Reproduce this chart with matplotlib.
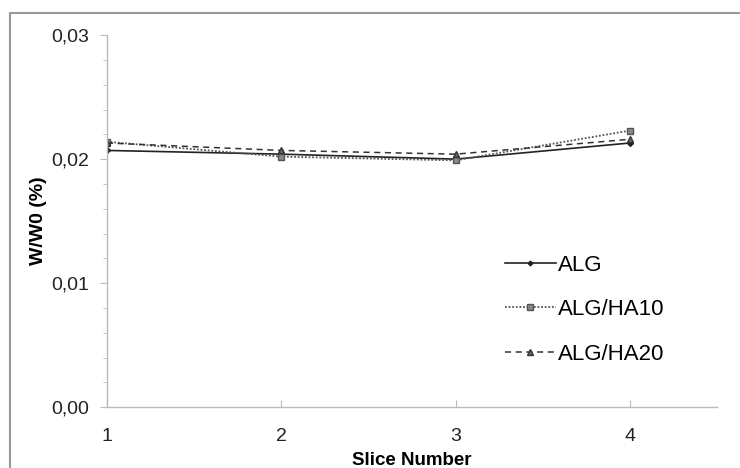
import matplotlib
matplotlib.use('Agg')
import matplotlib.pyplot as plt
from matplotlib.patches import Rectangle
from matplotlib.ticker import MultipleLocator, FuncFormatter

plt.rcParams['font.family'] = ['Liberation Sans', 'DejaVu Sans']

# 数据
slices = [1, 2, 3, 4]
alg = [0.0207, 0.0204, 0.0200, 0.0213]
alg_ha10 = [0.0214, 0.0202, 0.0199, 0.0223]
alg_ha20 = [0.0213, 0.0207, 0.0204, 0.0216]

fig = plt.figure(figsize=(7.4, 4.68), dpi=100)
ax = fig.add_axes([0.1446, 0.130, 0.8244, 0.795])

# 外框
fig.patches.append(Rectangle((10 / 740, -0.2), 1.2, (468 - 13) / 468 + 0.2,
                             transform=fig.transFigure, fill=False,
                             edgecolor='#999999', linewidth=1.5))

ax.plot(slices, alg, color='#222222', linestyle='-', linewidth=1.2,
        marker='D', markersize=3, label='ALG')
ax.plot(slices, alg_ha10, color='#555555', linestyle=(0, (1, 1)), linewidth=1.3,
        marker='s', markersize=5, markerfacecolor='#888888', label='ALG/HA10')
ax.plot(slices, alg_ha20, color='#333333', linestyle=(0, (4, 3)), linewidth=1.1,
        marker='^', markersize=5, markerfacecolor='#666666', label='ALG/HA20')

ax.set_xlim(1, 4.5)
ax.set_ylim(0, 0.03)
ax.set_xticks(slices)
ax.yaxis.set_major_locator(MultipleLocator(0.01))
ax.yaxis.set_minor_locator(MultipleLocator(0.002))
ax.yaxis.set_major_formatter(FuncFormatter(lambda v, p: f'{v:.2f}'.replace('.', ',')))

for s in ['top', 'right']:
    ax.spines[s].set_visible(False)
for s in ['left', 'bottom']:
    ax.spines[s].set_color('#bbbbbb')
    ax.spines[s].set_linewidth(1.0)

ax.tick_params(axis='both', which='both', colors='#bbbbbb', labelcolor='#222222',
               labelsize=14)
ax.tick_params(axis='y', which='major', length=5, direction='out', pad=8)
ax.tick_params(axis='y', which='minor', length=3, direction='out')
ax.tick_params(axis='x', length=5, direction='in', pad=15)

ax.set_ylabel('W/W0 (%)', fontsize=14, fontweight='bold', labelpad=3)
ax.set_xlabel('Slice Number', fontsize=13.5, fontweight='bold', labelpad=5)

ax.legend(loc='center left', bbox_to_anchor=(0.652, 0.262), frameon=False,
          fontsize=16, handlelength=2.3, labelspacing=1.05, handletextpad=0.1,
          borderpad=0, borderaxespad=0, markerscale=0.8)

fig.savefig('out.png', dpi=100)
